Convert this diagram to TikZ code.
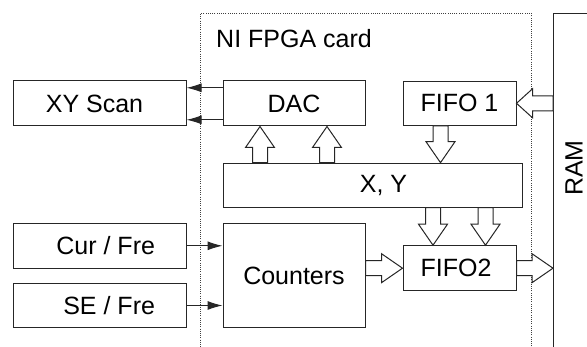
\documentclass[tikz,border=0pt]{standalone}
\usepackage{fontspec}
\setmainfont{Liberation Sans}
\usetikzlibrary{calc,arrows.meta}

\tikzset{
  txt/.style={font=\fontsize{25}{30}\selectfont, text=black},
  box/.style={draw=black!85, line width=1pt, rectangle, inner sep=0pt, txt},
  sig/.style={draw=black!85, line width=1pt, -{Latex[length=15pt,width=9pt]}},
  blk/.style={draw=black!85, line width=1pt, fill=white, line join=miter},
  card/.style={draw=black!75, line width=0.9pt, dash pattern=on 0.9pt off 1.3pt},
}
\newcommand\blockarr[3][21]{%
  \path[blk] let \p1=(#2), \p2=(#3),
    \n1={veclen(\x2-\x1,\y2-\y1)}, \n2={atan2(\y2-\y1,\x2-\x1)} in
    [shift={(\p1)}, rotate=\n2]
    (0pt,-7.5pt) -- ({\n1*1pt-#1pt},-7.5pt) -- ({\n1*1pt-#1pt},-14.5pt)
    -- ({\n1*1pt},0pt) -- ({\n1*1pt-#1pt},14.5pt) -- ({\n1*1pt-#1pt},7.5pt)
    -- (0pt,7.5pt) -- cycle;}

\begin{document}
\begin{tikzpicture}[x=1pt,y=-1pt]
  \useasboundingbox (0,0) rectangle (587,347);
  \clip (0,0) rectangle (587,347);

  % NI FPGA card region
  \node[card, minimum width=331pt, minimum height=345pt, anchor=north west] (card) at (200,13) {};
  \node[txt, anchor=base west, inner sep=0pt] (cardlbl) at (216,48) {NI FPGA card};

  % RAM
  \node[box, minimum width=70pt, minimum height=345pt, anchor=north west] (ram) at (553,13) {};
  \node[txt, rotate=90, inner sep=0pt] (ramlbl) at (574,168) {RAM};

  % blocks
  \node[box, minimum width=173pt, minimum height=45pt] (xy) at (99.5,103.5) {XY Scan\hspace*{10pt}};
  \node[box, minimum width=142pt, minimum height=45pt] (dac) at (294,103.5) {DAC};
  \node[box, minimum width=113pt, minimum height=44pt] (f1) at (459.5,103.3) {FIFO 1};
  \node[box, minimum width=299pt, minimum height=44pt] (xyb) at (372.5,185.2) {\hspace*{22pt}X, Y};
  \node[box, minimum width=173pt, minimum height=45pt] (cur) at (99.5,245.8) {\makebox[111pt][r]{Cur / Fre}};
  \node[box, minimum width=173pt, minimum height=44.4pt] (se) at (99.5,305.5) {\makebox[111pt][r]{SE / Fre}};
  \node[box, minimum width=142pt, minimum height=104.4pt] (cnt) at (294,275.5) {Counters};
  \node[box, minimum width=113pt, minimum height=45pt] (f2) at (459.5,268.2) {FIFO2\hspace*{7pt}};

  % signal arrows
  \draw[sig] ([yshift=-7.3pt]dac.north west) -- ([yshift=-7.3pt]xy.north east);
  \draw[sig] ([yshift=6.7pt]dac.south west) -- ([yshift=6.7pt]xy.south east);
  \draw[sig] (cur.east) -- (cur.east -| cnt.west);
  \draw[sig] (se.east) -- (se.east -| cnt.west);

  % block (bus) arrows
  \coordinate (a1) at ([xshift=37.5pt]xyb.north west);
  \coordinate (a2) at ([xshift=104.5pt]xyb.north west);
  \coordinate (a3) at ([xshift=-19pt]f1.south);
  \coordinate (a4) at ([xshift=-26.5pt]f2.north);
  \coordinate (a5) at ([xshift=26pt]f2.north);
  \blockarr{a1}{a1 |- dac.south}
  \blockarr{a2}{a2 |- dac.south}
  \blockarr{a3}{a3 |- xyb.north}
  \blockarr[16]{ram.west |- f1.east}{f1.east}
  \blockarr{a4 |- xyb.south}{a4}
  \blockarr{a5 |- xyb.south}{a5}
  \blockarr{f2.west -| cnt.east}{f2.west}
  \blockarr{f2.east}{f2.east -| ram.west}
\end{tikzpicture}
\end{document}
